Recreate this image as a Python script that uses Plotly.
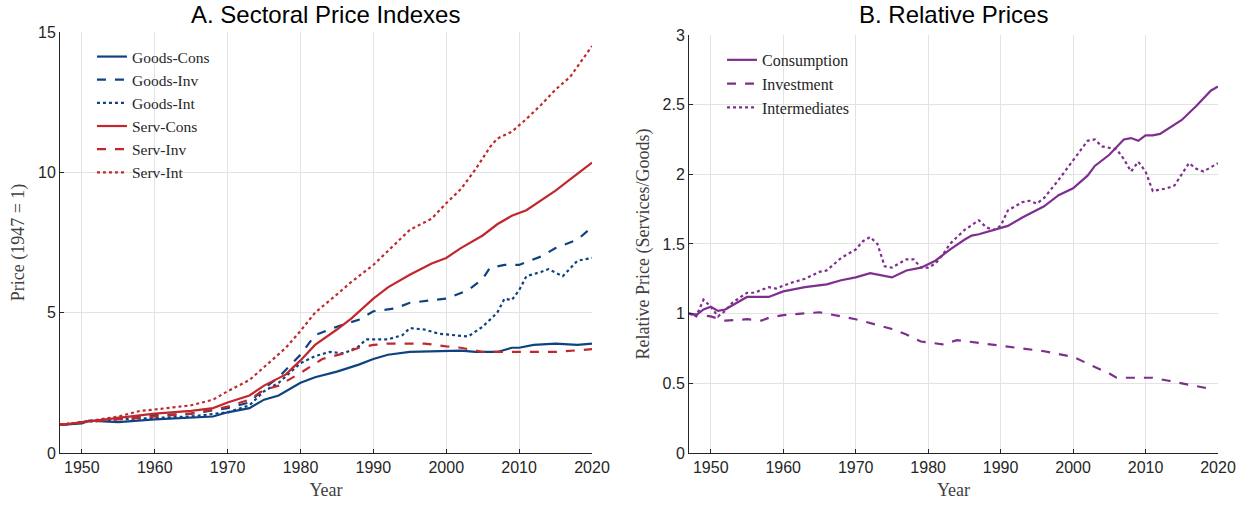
import plotly.graph_objects as go

# ---------------- Panel A data ----------------
gc_year = [1947, 1950, 1951, 1955, 1960, 1965, 1968, 1970, 1973, 1975, 1977, 1980, 1982, 1985, 1988, 1990, 1992, 1995, 2000, 2002, 2004, 2007, 2009, 2010, 2012, 2015, 2018, 2020]
gc_val = [1.0, 1.05, 1.15, 1.1, 1.2, 1.25, 1.3, 1.45, 1.6, 1.9, 2.05, 2.5, 2.7, 2.9, 3.15, 3.35, 3.5, 3.6, 3.65, 3.65, 3.6, 3.6, 3.75, 3.75, 3.85, 3.9, 3.85, 3.9]

gi_year = [1947, 1950, 1955, 1960, 1965, 1970, 1973, 1975, 1977, 1980, 1982, 1985, 1988, 1990, 1993, 1995, 2000, 2003, 2005, 2006, 2008, 2010, 2011, 2013, 2015, 2018, 2020]
gi_val = [1.0, 1.1, 1.25, 1.35, 1.4, 1.6, 1.8, 2.3, 2.7, 3.5, 4.2, 4.5, 4.75, 5.05, 5.15, 5.35, 5.5, 5.8, 6.2, 6.6, 6.7, 6.7, 6.8, 7.0, 7.3, 7.6, 8.05]

gn_year = [1947, 1950, 1955, 1960, 1965, 1970, 1973, 1975, 1977, 1980, 1982, 1984, 1986, 1988, 1989, 1992, 1994, 1995, 1997, 1999, 2003, 2005, 2007, 2008, 2009, 2010, 2011, 2013, 2014, 2016, 2018, 2020]
gn_val = [1.0, 1.1, 1.2, 1.25, 1.3, 1.45, 1.7, 2.2, 2.5, 3.2, 3.45, 3.6, 3.55, 3.8, 4.05, 4.05, 4.2, 4.45, 4.4, 4.25, 4.15, 4.5, 5.0, 5.5, 5.45, 5.8, 6.3, 6.45, 6.55, 6.3, 6.85, 6.95]

sc_year = [1947, 1950, 1955, 1960, 1965, 1968, 1970, 1973, 1975, 1978, 1980, 1982, 1985, 1987, 1990, 1992, 1995, 1998, 2000, 2002, 2005, 2007, 2009, 2011, 2013, 2015, 2017, 2020]
sc_val = [1.0, 1.1, 1.25, 1.4, 1.5, 1.6, 1.8, 2.05, 2.4, 2.8, 3.3, 3.85, 4.4, 4.8, 5.5, 5.9, 6.35, 6.75, 6.95, 7.3, 7.75, 8.15, 8.45, 8.65, 9.0, 9.35, 9.75, 10.35]

si_year = [1947, 1950, 1955, 1960, 1965, 1970, 1973, 1975, 1977, 1980, 1983, 1986, 1988, 1990, 1992, 1995, 1997, 2000, 2002, 2005, 2008, 2010, 2012, 2015, 2020]
si_val = [1.0, 1.1, 1.2, 1.3, 1.4, 1.65, 1.9, 2.25, 2.4, 2.85, 3.35, 3.55, 3.75, 3.85, 3.9, 3.9, 3.9, 3.8, 3.75, 3.6, 3.6, 3.6, 3.6, 3.6, 3.7]

sn_year = [1947, 1950, 1955, 1958, 1960, 1965, 1968, 1970, 1973, 1976, 1978, 1980, 1982, 1985, 1987, 1990, 1992, 1995, 1998, 2000, 2002, 2004, 2006, 2007, 2009, 2011, 2013, 2015, 2017, 2020]
sn_val = [1.0, 1.1, 1.3, 1.5, 1.55, 1.7, 1.9, 2.2, 2.6, 3.3, 3.75, 4.35, 5.0, 5.65, 6.1, 6.7, 7.2, 7.95, 8.35, 8.9, 9.4, 10.1, 10.9, 11.2, 11.45, 11.9, 12.4, 12.95, 13.4, 14.5]

# ---------------- Panel B data ----------------
rc_year = [1947, 1948, 1949, 1950, 1951, 1952, 1953, 1955, 1958, 1960, 1963, 1966, 1968, 1970, 1972, 1973, 1975, 1977, 1979, 1981, 1983, 1985, 1986, 1987, 1989, 1991, 1993, 1996, 1998, 2000, 2002, 2003, 2005, 2007, 2008, 2009, 2010, 2011, 2012, 2014, 2015, 2017, 2019, 2020]
rc_val = [1.0, 0.99, 1.03, 1.05, 1.02, 1.03, 1.06, 1.12, 1.12, 1.16, 1.19, 1.21, 1.24, 1.26, 1.29, 1.28, 1.26, 1.31, 1.33, 1.38, 1.46, 1.53, 1.56, 1.57, 1.6, 1.63, 1.69, 1.77, 1.85, 1.9, 1.99, 2.06, 2.14, 2.25, 2.26, 2.24, 2.28, 2.28, 2.29, 2.36, 2.39, 2.49, 2.6, 2.63]

ri_year = [1947, 1950, 1952, 1955, 1957, 1958, 1960, 1965, 1970, 1972, 1975, 1977, 1979, 1982, 1984, 1987, 1990, 1993, 1996, 2000, 2003, 2005, 2006, 2008, 2011, 2013, 2015, 2017, 2019]
ri_val = [1.0, 0.98, 0.95, 0.96, 0.95, 0.97, 0.99, 1.01, 0.96, 0.93, 0.89, 0.85, 0.8, 0.78, 0.81, 0.79, 0.77, 0.75, 0.73, 0.69, 0.62, 0.57, 0.54, 0.54, 0.54, 0.52, 0.5, 0.48, 0.46]

rn_year = [1947, 1948, 1949, 1950, 1951, 1952, 1953, 1955, 1956, 1958, 1959, 1961, 1963, 1965, 1966, 1968, 1970, 1971, 1972, 1973, 1974, 1975, 1977, 1978, 1979, 1980, 1981, 1982, 1983, 1985, 1987, 1988, 1989, 1990, 1991, 1993, 1994, 1995, 1996, 1998, 2000, 2002, 2003, 2004, 2006, 2007, 2008, 2009, 2010, 2011, 2013, 2014, 2016, 2017, 2018, 2020]
rn_val = [1.0, 0.98, 1.1, 1.05, 0.98, 1.02, 1.08, 1.15, 1.15, 1.19, 1.18, 1.22, 1.25, 1.3, 1.31, 1.4, 1.46, 1.52, 1.55, 1.5, 1.34, 1.33, 1.39, 1.39, 1.33, 1.33, 1.36, 1.42, 1.5, 1.6, 1.67, 1.62, 1.6, 1.63, 1.74, 1.8, 1.81, 1.79, 1.83, 1.96, 2.1, 2.24, 2.25, 2.2, 2.18, 2.11, 2.02, 2.09, 2.02, 1.88, 1.9, 1.92, 2.08, 2.04, 2.02, 2.08]

x_ticks = [1950, 1960, 1970, 1980, 1990, 2000, 2010, 2020]
yA_ticks = [0, 5, 10, 15]
yB_ticks = [0, 0.5, 1, 1.5, 2, 2.5, 3]
yB_labels = ["0", "0.5", "1", "1.5", "2", "2.5", "3"]

BLUE = "#0f4380"
RED = "#c0282d"
PURPLE = "#7e2f8e"
SERIF = "Liberation Serif"
SANS = "Liberation Sans"
LW = 2.2

fig = go.Figure()

panelA = [
    ("Goods-Cons", gc_year, gc_val, BLUE, "solid"),
    ("Goods-Inv", gi_year, gi_val, BLUE, "dash"),
    ("Goods-Int", gn_year, gn_val, BLUE, "dot"),
    ("Serv-Cons", sc_year, sc_val, RED, "solid"),
    ("Serv-Inv", si_year, si_val, RED, "dash"),
    ("Serv-Int", sn_year, sn_val, RED, "dot"),
]
for name, xs, ys, col, dash in panelA:
    fig.add_trace(go.Scatter(x=xs, y=ys, name=name, mode="lines",
                             line=dict(color=col, width=LW, dash=dash),
                             xaxis="x", yaxis="y", legend="legend"))

panelB = [
    ("Consumption", rc_year, rc_val, "solid"),
    ("Investment", ri_year, ri_val, "dash"),
    ("Intermediates", rn_year, rn_val, "dot"),
]
for name, xs, ys, dash in panelB:
    fig.add_trace(go.Scatter(x=xs, y=ys, name=name, mode="lines",
                             line=dict(color=PURPLE, width=LW, dash=dash),
                             xaxis="x2", yaxis="y2", legend="legend2"))

axis_common = dict(showline=True, linecolor="#262626", linewidth=1,
                   ticks="inside", ticklen=4, tickcolor="#262626",
                   showgrid=True, gridcolor="#e3e3e3", gridwidth=1,
                   zeroline=False, mirror=False, automargin=False,
                   tickfont=dict(family=SANS, size=16, color="#262626"))

title_font = dict(family=SERIF, size=18, color="#404040")

fig.update_layout(
    width=1250, height=506,
    margin=dict(l=60, r=32, t=32, b=53),
    paper_bgcolor="white", plot_bgcolor="white",
    xaxis=dict(domain=[0, 0.4594], range=[1947, 2020], tickvals=x_ticks,
               title=dict(text="Year", font=title_font, standoff=8),
               anchor="y", **axis_common),
    yaxis=dict(domain=[0, 1], range=[0, 15], tickvals=yA_ticks,
               title=dict(text="Price (1947 = 1)", font=title_font, standoff=8),
               anchor="x", **axis_common),
    xaxis2=dict(domain=[0.5432, 1], range=[1947, 2020], tickvals=x_ticks,
                title=dict(text="Year", font=title_font, standoff=8),
                anchor="y2", **axis_common),
    yaxis2=dict(domain=[0, 0.993], range=[0, 3], tickvals=yB_ticks, ticktext=yB_labels,
                title=dict(text="Relative Price (Services/Goods)", font=title_font, standoff=8),
                anchor="x2", **axis_common),
    legend=dict(x=0.0276, y=0.981, xanchor="left", yanchor="top",
                bgcolor="rgba(0,0,0,0)", borderwidth=0, tracegroupgap=0,
                font=dict(family=SERIF, size=15.5, color="#262626")),
    legend2=dict(x=0.5717, y=0.974, xanchor="left", yanchor="top",
                 bgcolor="rgba(0,0,0,0)", borderwidth=0, tracegroupgap=0,
                 font=dict(family=SERIF, size=16, color="#262626")),
    annotations=[
        dict(text="A. Sectoral Price Indexes", xref="paper", yref="paper",
             x=0.2297, y=1.0, yshift=2, xanchor="center", yanchor="bottom", showarrow=False,
             font=dict(family=SANS, size=24, color="black")),
        dict(text="B. Relative Prices", xref="paper", yref="paper",
             x=0.7716, y=1.0, yshift=2, xanchor="center", yanchor="bottom", showarrow=False,
             font=dict(family=SANS, size=24, color="black")),
    ],
    showlegend=True,
)

fig.write_html("out.html", config={"displayModeBar": False},
               post_script="document.body.style.margin='0px';")
